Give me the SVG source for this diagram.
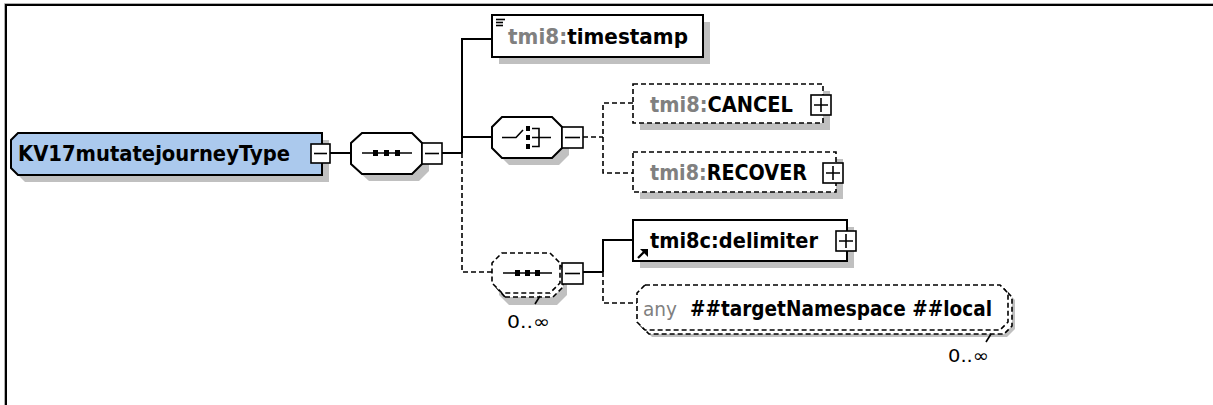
<svg xmlns="http://www.w3.org/2000/svg" width="1213" height="405" viewBox="0 0 1213 405">
<style>
.bg{fill:#ffffff}
.shadow{fill:#c0c0c0;stroke:none}
.node{fill:#ffffff;stroke:#000;stroke-width:2}
.root{fill:#abc9ed;stroke:#000;stroke-width:2}
.dnode{fill:#ffffff;stroke:#000;stroke-width:1.6;stroke-dasharray:5,3}
.dline{fill:none;stroke:#000;stroke-width:1.6;stroke-dasharray:5,3}
.line{fill:none;stroke:#000;stroke-width:2}
.box{fill:#ffffff;stroke:#000;stroke-width:1.6}
.sym{fill:none;stroke:#000;stroke-width:1.6}
.t{font-family:"DejaVu Sans","Liberation Sans",sans-serif;font-weight:bold;font-size:20.5px;fill:#000}
.ns{fill:#808080}
.any{font-family:"DejaVu Sans","Liberation Sans",sans-serif;font-weight:normal;font-size:20px;fill:#808080}
.card{font-family:"DejaVu Sans","Liberation Sans",sans-serif;font-size:18px;fill:#000}
</style>
<rect class="bg" x="0" y="0" width="1213" height="405"/>
<path d="M4.5,405 V3.5 H1213" fill="none" stroke="#b0b0b0" stroke-width="1"/>
<path d="M6,405 V5 H1213" fill="none" stroke="#000" stroke-width="2"/>

<g id="connectors">
<line class="line" x1="330" y1="153" x2="351" y2="153"/>
<line class="line" x1="442" y1="153" x2="462" y2="153"/>
<path class="line" d="M492,39 H462 V153"/>
<line class="line" x1="462" y1="137" x2="492" y2="137"/>
<path class="dline" d="M462,153 V272 H492"/>
<line class="dline" x1="583" y1="137" x2="603" y2="137"/>
<path class="dline" d="M633,103 H603 V173 H633"/>
<line class="line" x1="583" y1="272" x2="603" y2="272"/>
<path class="line" d="M633,240 H603 V272"/>
<path class="dline" d="M603,272 V303 H637"/>
</g>

<g id="root">
<polygon class="shadow" points="25,140 329,140 329,182 25,182 18,175 18,147"/>
<polygon class="root" points="18,133 322,133 322,175 18,175 11,168 11,140"/>
<text class="t" x="18" y="161" textLength="272" lengthAdjust="spacingAndGlyphs">KV17mutatejourneyType</text>
<rect class="box" x="311" y="144" width="19" height="19"/>
<line class="sym" x1="314" y1="153.5" x2="327" y2="153.5"/>
</g>

<g id="seq1">
<polygon class="shadow" points="369,140 419,140 429,150 429,171 419,181 369,181 358,171 358,150"/>
<polygon class="node" points="362,133 412,133 422,143 422,164 412,174 362,174 351,164 351,143"/>
<line class="sym" x1="362" y1="153" x2="412" y2="153"/>
<rect x="373" y="150" width="5" height="6" fill="#000"/>
<rect x="384" y="150" width="5" height="6" fill="#000"/>
<rect x="395" y="150" width="5" height="6" fill="#000"/>
<rect class="box" x="422" y="143" width="20" height="21"/>
<line class="sym" x1="425" y1="153.5" x2="439" y2="153.5"/>
</g>

<g id="timestamp">
<rect class="shadow" x="499" y="22" width="211" height="42"/>
<rect class="node" x="492" y="15" width="211" height="42"/>
<line class="sym" x1="496" y1="19.5" x2="505" y2="19.5" stroke-width="1.4"/>
<line class="sym" x1="496" y1="22.5" x2="503" y2="22.5" stroke-width="1.4"/>
<line class="sym" x1="496" y1="25.5" x2="503" y2="25.5" stroke-width="1.4"/>
<text class="t" x="508" y="44" textLength="180" lengthAdjust="spacingAndGlyphs"><tspan class="ns">tmi8:</tspan>timestamp</text>
</g>

<g id="choice">
<polygon class="shadow" points="509,124 559,124 569,134 569,155 559,165 509,165 499,155 499,134"/>
<polygon class="node" points="502,117 552,117 562,127 562,148 552,158 502,158 492,148 492,127"/>
<path class="sym" d="M502,137.5 H516 L523,130"/>
<rect x="526" y="126" width="4" height="5" fill="#000"/>
<rect x="526" y="135" width="4" height="5" fill="#000"/>
<rect x="526" y="144" width="4" height="5" fill="#000"/>
<path class="sym" d="M532,128.5 H539 V146.5 H532 M532,137.5 H551"/>
<rect class="box" x="562" y="127" width="21" height="21"/>
<line class="sym" x1="565" y1="137.5" x2="580" y2="137.5"/>
</g>

<g id="cancel">
<rect class="shadow" x="640" y="91" width="190" height="39"/>
<rect class="dnode" x="633" y="84" width="190" height="39"/>
<text class="t" x="650" y="112" textLength="143" lengthAdjust="spacingAndGlyphs"><tspan class="ns">tmi8:</tspan>CANCEL</text>
<rect class="box" x="811" y="95" width="20" height="20"/>
<path class="sym" d="M814,105 H828 M821,98 V112"/>
</g>

<g id="recover">
<rect class="shadow" x="640" y="159" width="203" height="40"/>
<rect class="dnode" x="633" y="152" width="203" height="40"/>
<text class="t" x="650" y="180" textLength="157" lengthAdjust="spacingAndGlyphs"><tspan class="ns">tmi8:</tspan>RECOVER</text>
<rect class="box" x="823" y="163" width="20" height="20"/>
<path class="sym" d="M826,173 H840 M833,166 V180"/>
</g>

<g id="seq2">
<polygon class="shadow" points="509,264 557,264 567,274 567,295 557,305 509,305 499,295 499,274"/>
<polygon class="dnode" points="505,297 553,297 563,287 563,268 553,258 505,258 496,268 496,287" fill="none"/>
<polygon class="dnode" points="502,253 550,253 560,263 560,283 550,293 502,293 492,283 492,263"/>
<line class="sym" x1="503" y1="273" x2="552" y2="273"/>
<rect x="515" y="270" width="5" height="6" fill="#000"/>
<rect x="525" y="270" width="5" height="6" fill="#000"/>
<rect x="535" y="270" width="5" height="6" fill="#000"/>
<rect class="box" x="562" y="263" width="21" height="21"/>
<line class="sym" x1="565" y1="273.5" x2="580" y2="273.5"/>
<line class="sym" x1="540" y1="296" x2="535" y2="304"/>
<text class="card" x="507" y="328" textLength="43" lengthAdjust="spacingAndGlyphs">0..∞</text>
</g>

<g id="delimiter">
<rect class="shadow" x="640" y="227" width="214" height="41"/>
<rect class="node" x="633" y="220" width="214" height="41"/>
<path d="M638,258 L644,252" stroke="#000" stroke-width="2.2"/>
<polygon points="640,249 648,249 648,257" fill="#000"/>
<text class="t" x="650" y="248" textLength="168" lengthAdjust="spacingAndGlyphs">tmi8c:delimiter</text>
<rect class="box" x="836" y="231" width="20" height="20"/>
<path class="sym" d="M839,241 H853 M846,234 V248"/>
</g>

<g id="any">
<polygon class="shadow" points="652,292 1007,292 1015,300 1015,329 1007,337 652,337 644,329 644,300"/>
<polygon class="dnode" points="649,289 1004,289 1012,297 1012,326 1004,334 649,334 641,326 641,297" fill="none"/>
<polygon class="dnode" points="645,285 1000,285 1008,293 1008,322 1000,330 645,330 637,322 637,293"/>
<text class="any" x="643" y="316" textLength="34" lengthAdjust="spacingAndGlyphs">any</text>
<text class="t" x="690" y="316" textLength="302" lengthAdjust="spacingAndGlyphs">##targetNamespace ##local</text>
<line class="sym" x1="991" y1="334" x2="986" y2="342"/>
<text class="card" x="948" y="362" textLength="41" lengthAdjust="spacingAndGlyphs">0..∞</text>
</g>
</svg>
